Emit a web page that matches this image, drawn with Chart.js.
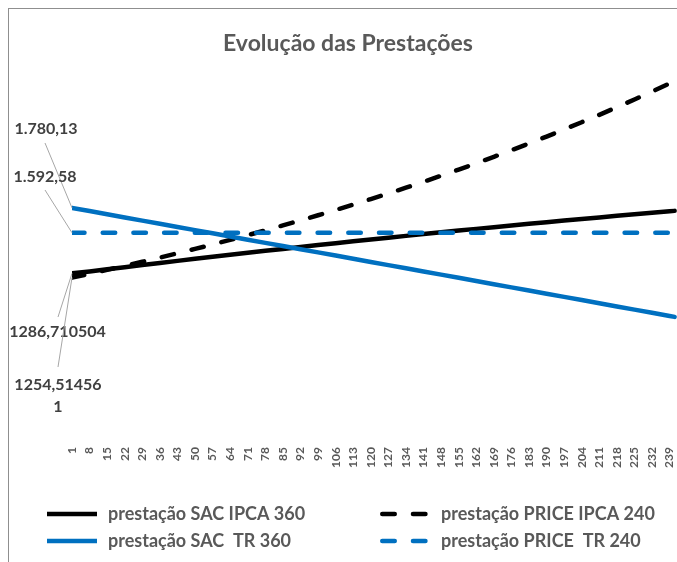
<!DOCTYPE html>
<html>
<head>
<meta charset="utf-8">
<script src="https://cdn.jsdelivr.net/npm/chart.js@4.4.0/dist/chart.umd.min.js"></script>
<style>
  html, body { margin: 0; padding: 0; background: #fff; overflow: hidden; width: 677px; height: 562px; }
  #wrap { position: absolute; left: 8px; top: 8px; width: 678px; height: 560px;
          border-left: 1px solid #8f8f8f; border-top: 1px solid #8f8f8f; }
</style>
</head>
<body>
<div id="wrap"><canvas id="grafico" width="678" height="560"></canvas></div>
<script>
// meses marcados no eixo x (a cada 7)
const tickMonths = [1, 8, 15, 22, 29, 36, 43, 50, 57, 64, 71, 78, 85, 92, 99, 106, 113, 120,
  127, 134, 141, 148, 155, 162, 169, 176, 183, 190, 197, 204, 211, 218, 225, 232, 239]
// SAC continua (360 meses), PRICE termina em 240
const sacMonths = tickMonths.concat([241])
const priceMonths = tickMonths.concat([240])

const sacIpca = [1286.710504, 1301.4, 1317.6, 1333.6, 1349.5, 1365.2, 1380.8, 1396.2, 1411.4,
  1426.5, 1441.5, 1456.3, 1470.9, 1485.4, 1499.8, 1514.0, 1528.0, 1541.9, 1555.6, 1569.2,
  1582.6, 1595.9, 1609.0, 1621.9, 1634.7, 1647.4, 1659.9, 1672.2, 1684.4, 1696.5, 1708.4,
  1720.1, 1731.7, 1743.1, 1754.4, 1757.6]
const priceIpca = [1254.514561, 1283.4, 1312.9, 1343.1, 1373.9, 1405.5, 1437.9, 1470.9, 1504.7,
  1539.4, 1574.7, 1611.0, 1648.0, 1685.9, 1724.7, 1764.3, 1804.9, 1846.4, 1888.9, 1932.3,
  1976.7, 2022.2, 2068.7, 2116.3, 2164.9, 2214.7, 2265.6, 2317.7, 2371.0, 2425.6, 2481.3,
  2538.4, 2596.8, 2656.5, 2717.6, 2726.4]
const sacTr = [1780.13, 1756.2, 1732.2, 1708.3, 1684.3, 1660.4, 1636.4, 1612.5, 1588.5, 1564.6,
  1540.6, 1516.6, 1492.7, 1468.7, 1444.8, 1420.8, 1396.9, 1372.9, 1349.0, 1325.0, 1301.0,
  1277.1, 1253.1, 1229.2, 1205.2, 1181.3, 1157.3, 1133.4, 1109.4, 1085.5, 1061.5, 1037.5,
  1013.6, 989.6, 965.7, 958.8]
const priceTr = [1592.58, 1592.58, 1592.58, 1592.58, 1592.58, 1592.58, 1592.58, 1592.58, 1592.58,
  1592.58, 1592.58, 1592.58, 1592.58, 1592.58, 1592.58, 1592.58, 1592.58, 1592.58, 1592.58,
  1592.58, 1592.58, 1592.58, 1592.58, 1592.58, 1592.58, 1592.58, 1592.58, 1592.58, 1592.58,
  1592.58, 1592.58, 1592.58, 1592.58, 1592.58, 1592.58, 1592.58]

const seriesNames = ['prestação SAC IPCA 360', 'prestação PRICE IPCA 240',
  'prestação SAC  TR 360', 'prestação PRICE  TR 240']

// rótulos do primeiro ponto, como aparecem no Excel
const firstLabels = [['1286,710504'], ['1254,51456', '1'], ['1.780,13'], ['1.592,58']]

const azul = '#0070c0'
const cinza = '#595959'
const tracejado = [12.5, 18.2]

function toPoints(months, values) {
  return months.map((m, i) => ({ x: m, y: values[i] }))
}

// rótulos + linhas de chamada, e legenda em duas colunas
const extras = {
  id: 'extras',
  afterDraw(chart) {
    const ctx = chart.ctx
    ctx.save()
    // posição do texto de cada rótulo e início da linha de chamada
    const notes = [
      { tx: 48.5, ty: 323, lx: 49, ly: 308 },
      { tx: 49, ty: 376, lx: 49, ly: 358 },
      { tx: 37, ty: 120, lx: 36, ly: 134 },
      { tx: 36, ty: 168, lx: 36, ly: 181 }
    ]
    notes.forEach((n, i) => {
      const pt = chart.getDatasetMeta(i).data[0]
      ctx.strokeStyle = '#a6a6a6'
      ctx.lineWidth = 1
      ctx.beginPath()
      ctx.moveTo(n.lx, n.ly)
      ctx.lineTo(pt.x, pt.y)
      ctx.stroke()
      ctx.fillStyle = '#404040'
      ctx.font = 'bold 16px Lato'
      ctx.textAlign = 'center'
      ctx.textBaseline = 'middle'
      firstLabels[i].forEach((t, k) => ctx.fillText(t, n.tx, n.ty + k * 22))
    })

    const cols = [38, 371]
    const rows = [505, 532]
    chart.data.datasets.forEach((ds, i) => {
      const x0 = cols[i % 2]
      const y = rows[Math.floor(i / 2)]
      ctx.strokeStyle = ds.borderColor
      ctx.lineWidth = 4.5
      ctx.lineCap = ds.borderDash.length ? 'round' : 'butt'
      ctx.setLineDash(ds.borderDash)
      ctx.beginPath()
      ctx.moveTo(x0 + (ds.borderDash.length ? 2.25 : 0), y)
      ctx.lineTo(x0 + 50, y)
      ctx.stroke()
      ctx.setLineDash([])
      ctx.fillStyle = cinza
      ctx.font = 'bold 18px Lato'
      ctx.textAlign = 'left'
      ctx.textBaseline = 'middle'
      ctx.fillText(ds.label, x0 + 61, y)
    })
    ctx.restore()
  }
}

Chart.defaults.font.family = 'Lato'

new Chart(document.getElementById('grafico'), {
  type: 'line',
  data: {
    datasets: [
      { label: seriesNames[0], data: toPoints(sacMonths, sacIpca), borderColor: '#000', borderDash: [], order: 4 },
      { label: seriesNames[1], data: toPoints(priceMonths, priceIpca), borderColor: '#000', borderDash: tracejado, order: 3 },
      { label: seriesNames[2], data: toPoints(sacMonths, sacTr), borderColor: azul, borderDash: [], order: 2 },
      { label: seriesNames[3], data: toPoints(priceMonths, priceTr), borderColor: azul, borderDash: tracejado, order: 1 }
    ]
  },
  options: {
    responsive: false,
    animation: false,
    layout: { padding: { left: 0, right: 0, top: 0, bottom: 98 } },
    elements: {
      point: { radius: 0 },
      line: { borderWidth: 4.5, tension: 0, borderCapStyle: 'round', fill: false }
    },
    scales: {
      x: {
        type: 'linear',
        min: 1,
        max: 244.9,
        grid: { display: false, drawTicks: false },
        border: { display: false },
        afterBuildTicks: axis => { axis.ticks = tickMonths.map(v => ({ value: v })) },
        ticks: {
          autoSkip: false,
          maxRotation: 90,
          minRotation: 90,
          padding: 3,
          color: cinza,
          font: { size: 12, weight: 'bold' },
          callback: v => String(v)
        }
      },
      y: {
        min: 0,
        max: 3000,
        grid: { display: false, drawTicks: false },
        border: { display: false },
        ticks: { display: false },
        afterFit: axis => { axis.width = 63 }
      }
    },
    plugins: {
      legend: { display: false },
      tooltip: { enabled: false },
      title: {
        display: true,
        text: 'Evolução das Prestações',
        color: cinza,
        font: { size: 23, weight: 'bold' },
        padding: { top: 20.8, bottom: -11.4 }
      }
    }
  },
  plugins: [extras]
})
</script>
</body>
</html>
